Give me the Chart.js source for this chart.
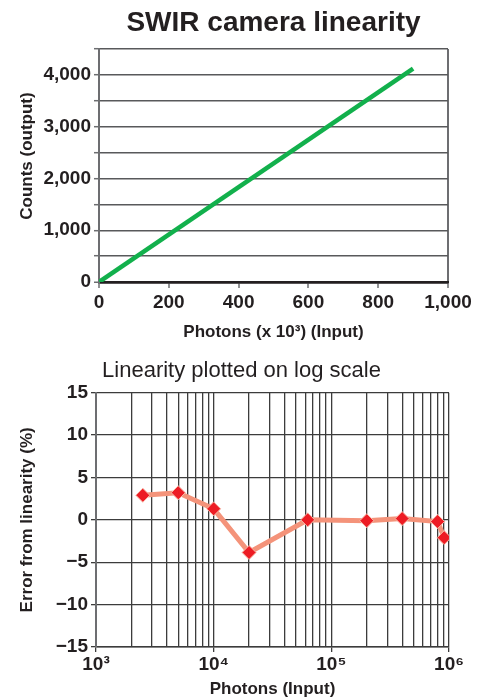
<!DOCTYPE html>
<html>
<head>
<meta charset="utf-8">
<script src="https://cdn.jsdelivr.net/npm/chart.js@4/dist/chart.umd.min.js"></script>
<style>
  html, body { margin: 0; padding: 0; background: #fff; }
  body { width: 479px; height: 700px; position: relative; overflow: hidden; }
  #top { position: absolute; left: 0; top: 0; }
  #bottom { position: absolute; left: 0; top: 345px; }
</style>
</head>
<body>
<canvas id="top" width="479" height="345"></canvas>
<canvas id="bottom" width="479" height="355"></canvas>
<script>
// ---- Data: top chart (linearity) ----
const linPhotons = [0, 900];          // photons (x 10^3)
const linCounts  = [0, 4120];         // counts (output)
const countTickValues = [0, 1000, 2000, 3000, 4000];
const countTickLabels = ['0', '1,000', '2,000', '3,000', '4,000'];
const photonTickValues = [0, 200, 400, 600, 800, 1000];
const photonTickLabels = ['0', '200', '400', '600', '800', '1,000'];

// ---- Data: bottom chart (error on log scale) ----
const errPhotons = [2500, 5000, 10000, 20000, 63000, 200000, 400000, 800000, 910000];
const errPct     = [2.9, 3.2, 1.3, -3.85, 0.0, -0.1, 0.15, -0.2, -2.1];
const logTickValues = [1000, 2000, 3000, 4000, 5000, 6000, 7000, 8000, 9000,
                       10000, 20000, 30000, 40000, 50000, 60000, 70000, 80000, 90000,
                       100000, 200000, 300000, 400000, 500000, 600000, 700000, 800000, 900000,
                       1000000];
const logMajorValues = [1000, 10000, 100000, 1000000];
const logMajorLabels = ['10\u00B3', '10\u2074', '10\u2075', '10\u2076'];
const errTickValues = [-15, -10, -5, 0, 5, 10, 15];
const errTickLabels = ['\u221215', '\u221210', '\u22125', '0', '5', '10', '15'];

const SANS = "'Liberation Sans', Arial, sans-serif";
const tickFont = { family: SANS, size: 19, weight: 'bold' };
const axisTitleFont = { family: SANS, size: 17, weight: 'bold' };

// ---------- Top chart ----------
new Chart(document.getElementById('top'), {
  type: 'line',
  data: {
    datasets: [{
      data: linPhotons.map((x, i) => ({ x, y: linCounts[i] })),
      borderColor: '#12b04c',
      borderWidth: 4.5,
      pointRadius: 0,
      fill: false,
      tension: 0
    }]
  },
  options: {
    responsive: false,
    animation: false,
    layout: { padding: { left: 0, right: 31, top: 0, bottom: 0 } },
    plugins: {
      legend: { display: false },
      tooltip: { enabled: false },
      title: {
        display: true,
        fullSize: false,
        text: 'SWIR camera linearity',
        color: '#231f20',
        font: { family: SANS, size: 28, weight: 'bold' },
        padding: { top: 6, bottom: 9.4 }
      }
    },
    scales: {
      x: {
        type: 'linear',
        min: 0, max: 1000,
        afterBuildTicks: (s) => { s.ticks = photonTickValues.map(v => ({ value: v })); },
        afterFit: (s) => { s.height = 63; },
        ticks: {
          autoSkip: false, maxRotation: 0, padding: 3,
          color: '#231f20', font: tickFont,
          callback: (v) => photonTickLabels[photonTickValues.indexOf(v)]
        },
        grid: {
          drawOnChartArea: true,
          color: (c) => (c.tick && c.tick.value === 1000) ? '#6d6e71' : 'rgba(0,0,0,0)',
          lineWidth: 2,
          tickColor: '#6d6e71',
          tickLength: 6,
          tickWidth: 1.5
        },
        border: { display: true, color: '#231f20', width: 2.5 },
        title: {
          display: true,
          text: 'Photons (x 10\u00B3) (Input)',
          color: '#231f20',
          font: axisTitleFont,
          padding: { top: 0, bottom: 2 }
        }
      },
      y: {
        type: 'linear',
        min: 0, max: 4500,
        afterBuildTicks: (s) => {
          const t = [];
          for (let v = 0; v <= 4500; v += 500) t.push({ value: v });
          s.ticks = t;
        },
        afterFit: (s) => { s.width = 99; },
        ticks: {
          autoSkip: false, padding: 3,
          color: '#231f20', font: tickFont,
          callback: (v) => {
            const i = countTickValues.indexOf(v);
            return i >= 0 ? countTickLabels[i] : '';
          }
        },
        grid: {
          color: (c) => (c.tick && c.tick.value === 0) ? '#231f20' : '#58595b',
          lineWidth: (c) => (c.tick && c.tick.value === 0) ? 2.5 : 1.4,
          tickColor: '#6d6e71',
          tickLength: 5,
          tickWidth: 1.5
        },
        border: { display: true, color: '#6d6e71', width: 2 },
        title: {
          display: true,
          text: '    Counts (output)',
          color: '#231f20',
          font: axisTitleFont,
          padding: { top: 17, bottom: 0 }
        }
      }
    }
  }
});

// ---------- Bottom chart ----------
new Chart(document.getElementById('bottom'), {
  type: 'line',
  data: {
    datasets: [{
      data: errPhotons.map((x, i) => ({ x, y: errPct[i] })),
      borderColor: '#f4937a',
      borderWidth: 5,
      pointStyle: 'rectRot',
      pointRadius: 7,
      pointBackgroundColor: '#ed1c24',
      pointBorderColor: '#f8b9a8',
      pointBorderWidth: 1,
      fill: false,
      tension: 0
    }]
  },
  options: {
    responsive: false,
    animation: false,
    layout: { padding: { left: 34, right: 30, top: 0, bottom: 0 } },
    plugins: {
      legend: { display: false },
      tooltip: { enabled: false },
      title: {
        display: true,
        text: 'Linearity plotted on log scale',
        color: '#231f20',
        font: { family: SANS, size: 22, weight: 'normal' },
        padding: { top: 13, bottom: 8.3 }
      }
    },
    scales: {
      x: {
        type: 'logarithmic',
        min: 1000, max: 1000000,
        afterBuildTicks: (s) => { s.ticks = logTickValues.map(v => ({ value: v })); },
        afterFit: (s) => { s.height = 53; },
        ticks: {
          autoSkip: false, maxRotation: 0, padding: 1,
          color: '#231f20', font: tickFont,
          callback: (v) => {
            const i = logMajorValues.indexOf(v);
            return i >= 0 ? logMajorLabels[i] : '';
          }
        },
        grid: {
          color: '#3c3c3c',
          lineWidth: 1.3,
          tickColor: (c) => (c.tick && logMajorValues.indexOf(c.tick.value) >= 0) ? '#3c3c3c' : 'rgba(0,0,0,0)',
          tickLength: 5
        },
        border: { display: true, color: '#3c3c3c', width: 1.5 },
        title: {
          display: true,
          text: 'Photons (Input)',
          color: '#231f20',
          font: axisTitleFont,
          padding: { top: 0, bottom: 0 }
        }
      },
      y: {
        type: 'linear',
        min: -15, max: 15,
        afterBuildTicks: (s) => { s.ticks = errTickValues.map(v => ({ value: v })); },
        afterFit: (s) => { s.width = 62; },
        ticks: {
          autoSkip: false, padding: 3,
          color: '#231f20', font: tickFont,
          callback: (v) => errTickLabels[errTickValues.indexOf(v)]
        },
        grid: {
          color: '#3c3c3c',
          lineWidth: 1.3,
          tickColor: '#3c3c3c',
          tickLength: 5
        },
        border: { display: true, color: '#6d6e71', width: 2 },
        title: {
          display: true,
          text: 'Error from linearity (%)',
          color: '#231f20',
          font: axisTitleFont,
          padding: { top: -17, bottom: 0 }
        }
      }
    }
  }
});
</script>
</body>
</html>
